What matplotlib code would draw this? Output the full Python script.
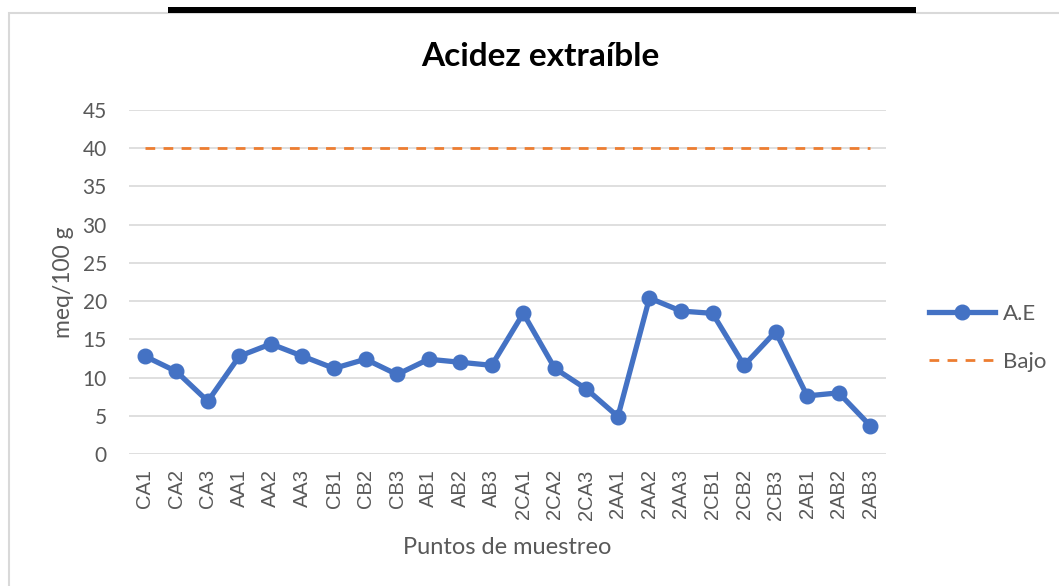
import matplotlib.pyplot as plt
from matplotlib.patches import Rectangle

puntos = ['CA1', 'CA2', 'CA3', 'AA1', 'AA2', 'AA3', 'CB1', 'CB2', 'CB3',
          'AB1', 'AB2', 'AB3', '2CA1', '2CA2', '2CA3', '2AA1', '2AA2', '2AA3',
          '2CB1', '2CB2', '2CB3', '2AB1', '2AB2', '2AB3']
acidez = [12.8, 10.8, 6.9, 12.8, 14.4, 12.8, 11.2, 12.4, 10.4,
          12.4, 12.0, 11.6, 18.4, 11.2, 8.5, 4.9, 20.4, 18.7,
          18.4, 11.6, 16.0, 7.6, 8.0, 3.7]
bajo = [40] * len(puntos)

plt.rcParams['font.family'] = ['Lato', 'DejaVu Sans']

fig = plt.figure(figsize=(10.59, 5.86), dpi=100)
W, H = 1059, 586

# marco del gráfico y barra negra superior
fig.add_artist(Rectangle((8.5 / W, -0.05), 1.1, 1 - 13 / H + 0.05,
                         transform=fig.transFigure, fill=False,
                         edgecolor='#d9d9d9', linewidth=1.5))
fig.add_artist(Rectangle((168 / W, 1 - 12.5 / H), (916 - 168) / W, 5.5 / H,
                         transform=fig.transFigure, color='black', linewidth=0))

ax = fig.add_axes([129 / W, 132 / H, (886 - 129) / W, (454 - 110) / H])
x = range(len(puntos))
ax.plot(x, acidez, color='#4472C4', linewidth=3.8, marker='o',
        markersize=10.5, label='A.E', zorder=3)
ax.plot(x, bajo, color='#ED7D31', linewidth=2, linestyle=(0, (3.5, 3)),
        label='Bajo', zorder=2)

ax.set_xlim(-0.5, len(puntos) - 0.5)
ax.set_ylim(0, 45)
ax.set_yticks(range(0, 46, 5))
ax.set_xticks(list(x))
ax.set_xticklabels(puntos, rotation=90, fontsize=14.5, color='#595959',
                   family=['Liberation Sans', 'DejaVu Sans'])
ax.tick_params(axis='y', labelsize=15, colors='#595959', length=0, pad=16)
ax.tick_params(axis='x', length=0, pad=11)
ax.grid(axis='y', color='#d9d9d9', linewidth=1.2)
ax.set_axisbelow(True)
for s in ax.spines.values():
    s.set_visible(False)

fig.text(63 / W, 1 - 282 / H, 'meq/100 g', rotation=90, ha='center',
         va='center', fontsize=16.5, color='#595959')
fig.text(507 / W, 1 - 547 / H, 'Puntos de muestreo', ha='center',
         va='center', fontsize=17, color='#595959')
fig.text(540 / W, 1 - 57 / H, 'Acidez extraíble', ha='center', va='center',
         fontsize=24, fontweight='bold', color='black')

ax.legend(loc='center left', bbox_to_anchor=(1.03, 0.337), frameon=False,
          fontsize=16, labelcolor='#595959', handlelength=3.0,
          handletextpad=0.35, labelspacing=1.25)

fig.savefig('out.png', dpi=100)
